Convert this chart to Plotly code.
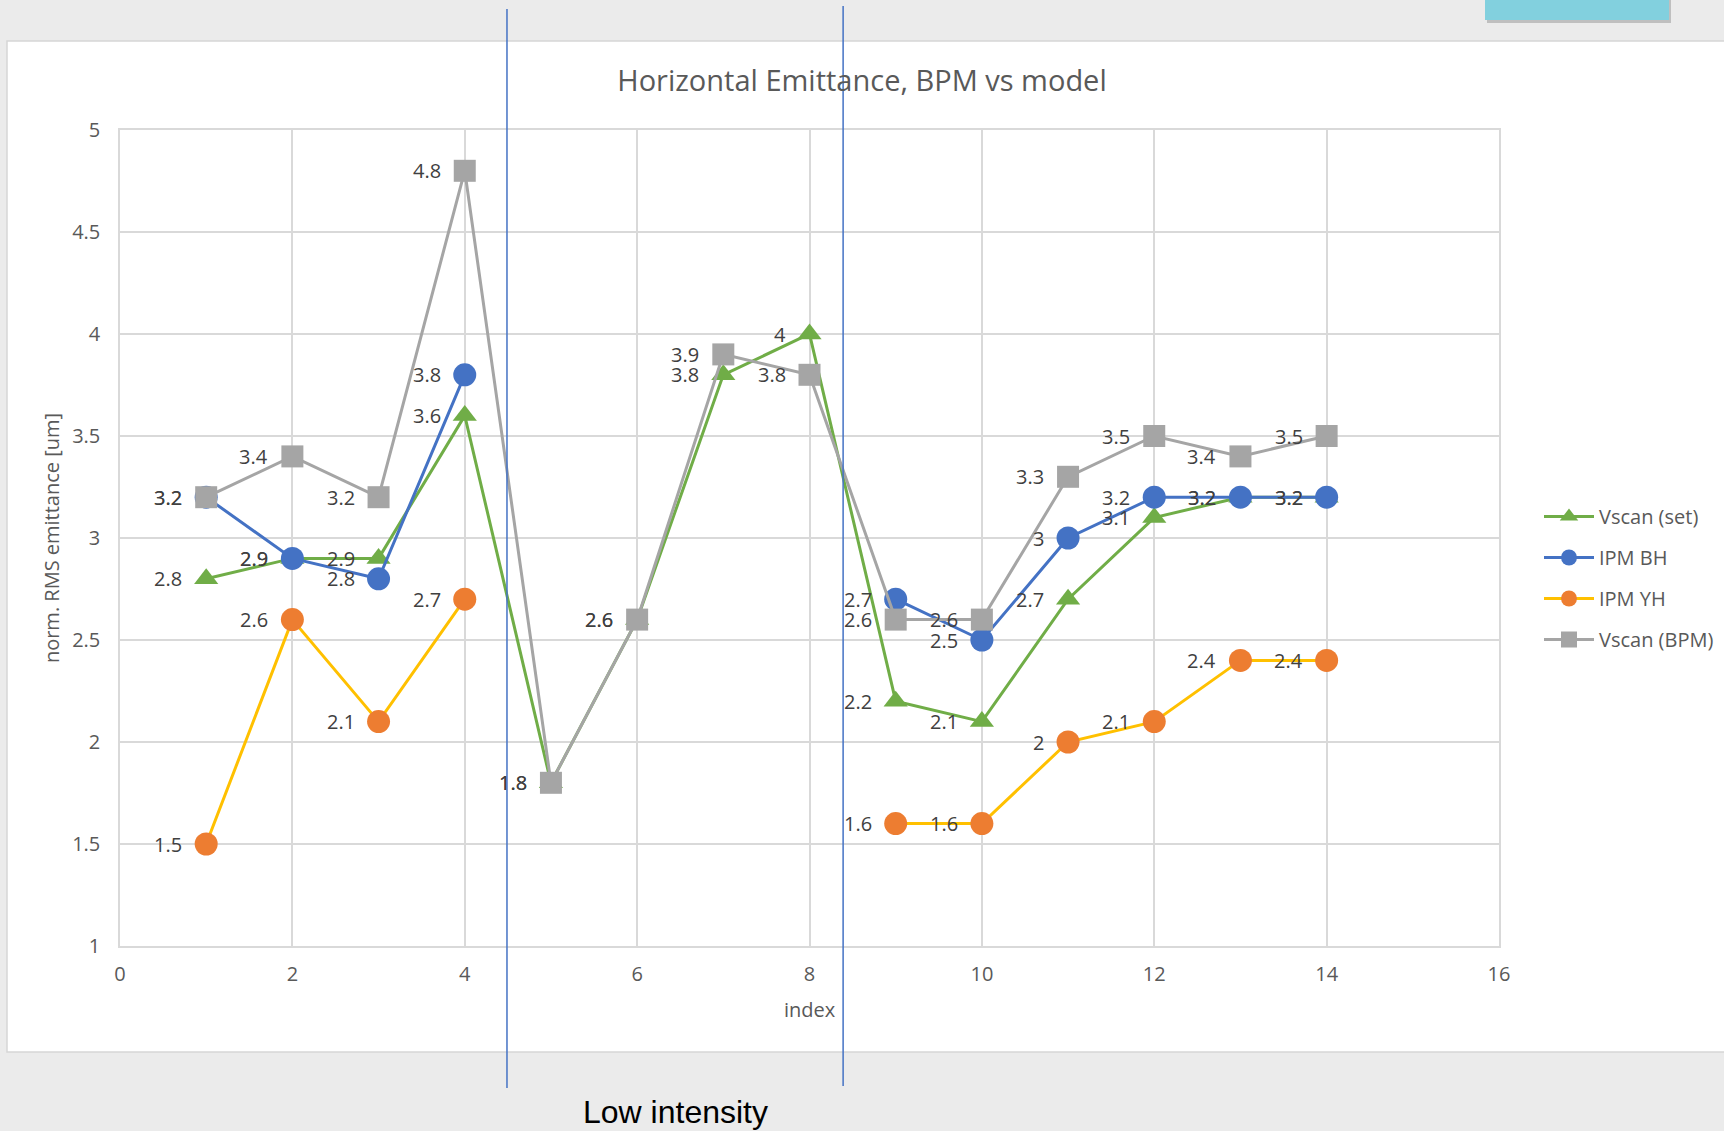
import plotly.graph_objects as go

# ---- data ----
index = list(range(1, 15))
vscan_set = [2.8, 2.9, 2.9, 3.6, 1.8, 2.6, 3.8, 4.0, 2.2, 2.1, 2.7, 3.1, 3.2, 3.2]
ipm_bh = [3.2, 2.9, 2.8, 3.8, None, None, None, None, 2.7, 2.5, 3.0, 3.2, 3.2, 3.2]
ipm_yh = [1.5, 2.6, 2.1, 2.7, None, None, None, None, 1.6, 1.6, 2.0, 2.1, 2.4, 2.4]
vscan_bpm = [3.2, 3.4, 3.2, 4.8, 1.8, 2.6, 3.9, 3.8, 2.6, 2.6, 3.3, 3.5, 3.4, 3.5]

# boundaries of the low-intensity region (index units)
low_int_bounds = [4.49, 8.39]

W, H = 1724, 1131
L, R, T, B = 120, 1499, 130, 946  # plot area in pixels


def px_x(p):
    return (p - L) / (R - L)


def px_y(p):
    return (B - p) / (B - T)


FONT = "Open Sans"
TXT = "#595959"
LBL = "#404040"
FS = 20

series = [
    ("Vscan (set)", vscan_set, "#70ad47", "#70ad47", "triangle-up", 21),
    ("IPM BH", ipm_bh, "#4472c4", "#4472c4", "circle", 23),
    ("IPM YH", ipm_yh, "#ffc000", "#ed7d31", "circle", 23),
    ("Vscan (BPM)", vscan_bpm, "#a5a5a5", "#a5a5a5", "square", 22),
]

fig = go.Figure()
annotations = []
for name, vals, lc, mc, sym, sz in series:
    fig.add_trace(go.Scatter(
        x=index, y=vals, name=name, legendgroup=name,
        mode="lines+markers",
        line=dict(color=lc, width=3),
        marker=dict(color=mc, symbol=sym, size=sz),
        connectgaps=False,
        cliponaxis=False,
    ))
    # value labels to the left of each point
    for xi, v in zip(index, vals):
        if v is None:
            continue
        annotations.append(dict(
            text=f"{v:g}", x=xi, y=v, xref="x", yref="y",
            showarrow=False, xanchor="right", yanchor="middle",
            xshift=-22, font=dict(family=FONT, size=FS, color=LBL),
        ))

shapes = [
    # white chart panel on the slide
    dict(type="rect", xref="paper", yref="paper",
         x0=px_x(7), x1=px_x(1740), y0=px_y(1052), y1=px_y(41),
         fillcolor="white", line=dict(color="#d6d6d6", width=1.5), layer="below"),
    # teal tab at the top right, with shadow
    dict(type="rect", xref="paper", yref="paper",
         x0=px_x(1487), x1=px_x(1671), y0=px_y(23), y1=px_y(-5),
         fillcolor="rgba(110,110,110,0.35)", line=dict(width=0), layer="below"),
    dict(type="rect", xref="paper", yref="paper",
         x0=px_x(1485), x1=px_x(1669), y0=px_y(20), y1=px_y(-5),
         fillcolor="#82d0de", line=dict(width=0), layer="below"),
]
for xb, ytop, ybot in zip(low_int_bounds, [9, 6], [1088, 1086]):
    shapes.append(dict(type="line", xref="x", yref="paper",
                       x0=xb, x1=xb, y0=px_y(ybot), y1=px_y(ytop),
                       line=dict(color="#4472c4", width=1.5), layer="above"))

annotations.append(dict(
    text="Low intensity", xref="x", yref="paper",
    x=sum(low_int_bounds) / 2, y=px_y(1112), showarrow=False,
    xanchor="center", yanchor="middle",
    font=dict(family="Liberation Sans", size=32, color="black"),
))

fig.update_layout(
    width=W, height=H,
    margin=dict(l=L, r=W - R, t=T, b=H - B, autoexpand=False),
    paper_bgcolor="#ebebeb",
    plot_bgcolor="white",
    font=dict(family=FONT, color=TXT, size=FS),
    title=dict(text="Horizontal Emittance, BPM vs model",
               x=0.5, xref="container", xanchor="center",
               y=1 - 81 / H, yref="container", yanchor="middle",
               font=dict(family=FONT, size=29, color=TXT)),
    xaxis=dict(range=[0, 16], dtick=2, tick0=0,
               showgrid=True, gridcolor="#d9d9d9", gridwidth=1.5,
               showline=True, linecolor="#d9d9d9", linewidth=1.5, mirror=True,
               zeroline=False, ticks="", ticklabelstandoff=9,
               tickfont=dict(size=FS, color=TXT),
               title=dict(text="index", standoff=17, font=dict(size=FS, color=TXT))),
    yaxis=dict(range=[1, 5], dtick=0.5, tick0=1,
               showgrid=True, gridcolor="#d9d9d9", gridwidth=1.5,
               showline=True, linecolor="#d9d9d9", linewidth=1.5, mirror=True,
               zeroline=False, ticks="", ticklabelstandoff=14,
               tickfont=dict(size=FS, color=TXT),
               title=dict(text="norm. RMS emittance [um]", standoff=7,
                          font=dict(size=FS, color=TXT))),
    legend=dict(x=px_x(1539), xanchor="left", y=px_y(578), yanchor="middle",
                bgcolor="rgba(0,0,0,0)", tracegroupgap=12, itemwidth=50,
                font=dict(size=FS, color=TXT)),
    shapes=shapes,
    annotations=annotations,
)

fig.write_html("out.html")
